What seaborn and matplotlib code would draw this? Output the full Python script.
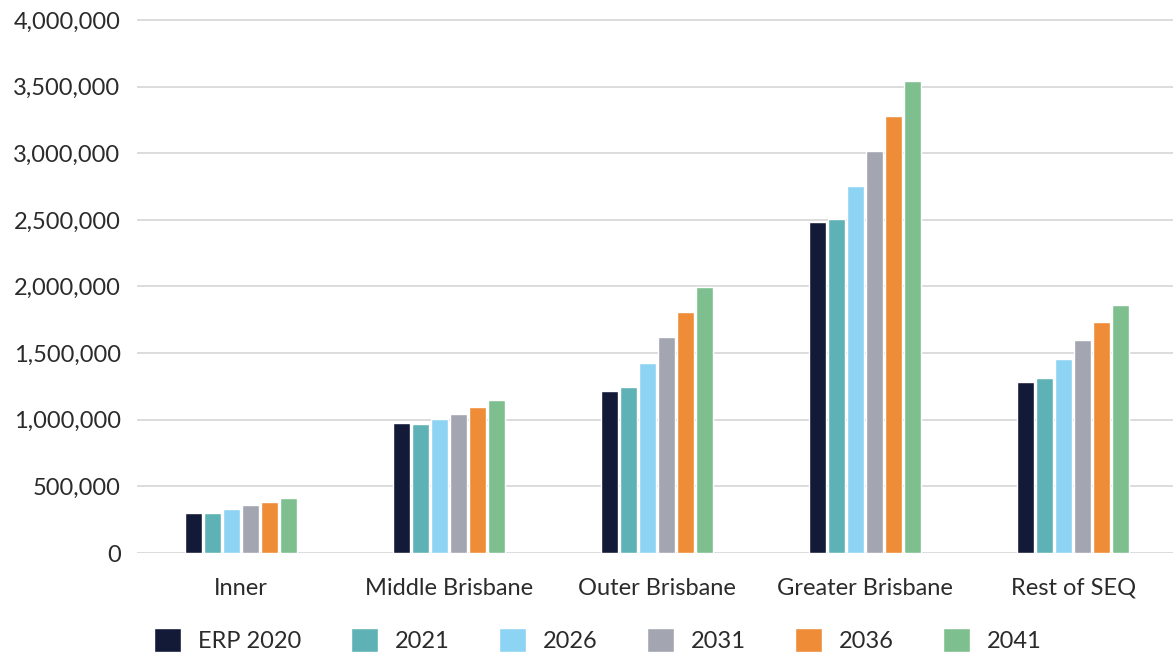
import matplotlib
matplotlib.use("Agg")
import matplotlib.pyplot as plt
import seaborn as sns
import pandas as pd

regions = ["Inner", "Middle Brisbane", "Outer Brisbane", "Greater Brisbane", "Rest of SEQ"]
series = ["ERP 2020", "2021", "2026", "2031", "2036", "2041"]

erp_2020 = [300000, 975000, 1215000, 2482000, 1282000]
y_2021 = [299000, 967000, 1245000, 2505000, 1312000]
y_2026 = [330000, 1005000, 1425000, 2752000, 1455000]
y_2031 = [360000, 1042000, 1620000, 3015000, 1597000]
y_2036 = [382000, 1095000, 1807000, 3277000, 1732000]
y_2041 = [412000, 1147000, 1995000, 3540000, 1860000]

palette = ["#131a38", "#5eb2b5", "#8dd3f3", "#a3a6b1", "#ee8c38", "#7dbf8e"]

rows = []
for name, vals in zip(series, [erp_2020, y_2021, y_2026, y_2031, y_2036, y_2041]):
    for reg, v in zip(regions, vals):
        rows.append({"Region": reg, "Series": name, "Population": v})
df = pd.DataFrame(rows)

sns.set_theme(style="white")
plt.rcParams["font.family"] = ["Lato", "DejaVu Sans"]
text_color = "#2b2b2b"
font_size = 17

fig = plt.figure(figsize=(11.73, 6.57), dpi=100)
ax = fig.add_axes([136.5 / 1173, 104 / 657, 1041 / 1173, 535.7 / 657])

sns.barplot(data=df, x="Region", y="Population", hue="Series",
            order=regions, hue_order=series, palette=palette,
            width=0.547, gap=0.105, saturation=1, errorbar=None, ax=ax)

ax.set_ylim(0, 4.02e6)
ax.set_xlim(-0.5, len(regions) - 0.5)
ax.set_yticks(range(0, 4000001, 500000))
ax.yaxis.set_major_formatter(matplotlib.ticker.FuncFormatter(lambda v, p: f"{int(v):,}"))
ax.grid(axis="y", color="#d6d6d6", linewidth=1.2)
ax.set_axisbelow(True)
for s in ax.spines.values():
    s.set_visible(False)
ax.set_xlabel("")
ax.set_ylabel("")
ax.tick_params(axis="both", length=0, labelsize=font_size, labelcolor=text_color)
ax.tick_params(axis="x", pad=18)
ax.tick_params(axis="y", pad=11.5)

ax.legend(loc="center", ncol=6, frameon=False,
          fontsize=font_size, labelcolor=text_color,
          handlelength=1.15, handleheight=1.25, handletextpad=0.72,
          columnspacing=2.08)
leg = ax.get_legend()
leg.set_bbox_to_anchor((598 / 1173, 1 - 640 / 657), transform=fig.transFigure)

fig.savefig("out.png", dpi=100)
